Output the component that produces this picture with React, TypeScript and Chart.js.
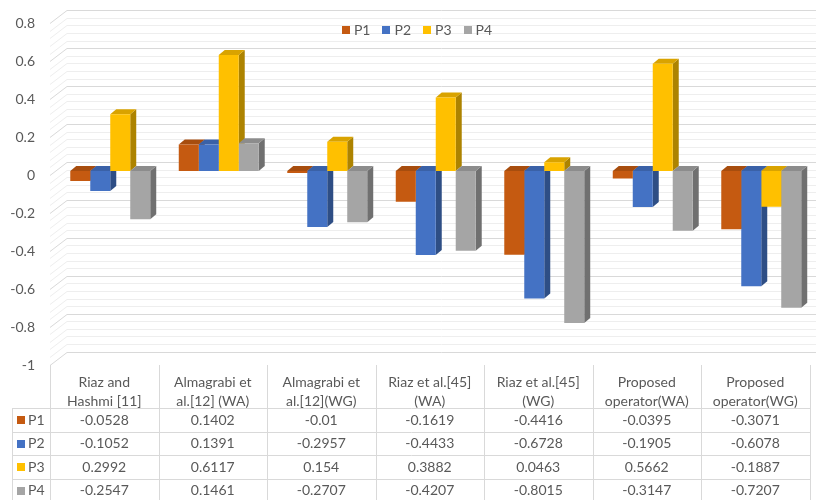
import React, { useEffect, useRef } from "react";
import { Chart, registerables } from "chart.js";

Chart.register(...registerables);

// ---- data ----
const headerLine1 = ["Riaz and", "Almagrabi et", "Almagrabi et", "Riaz et al.[45]", "Riaz et al.[45]", "Proposed", "Proposed"];
const headerLine2 = ["Hashmi [11]", "al.[12] (WA)", "al.[12](WG)", "(WA)", "(WG)", "operator(WA)", "operator(WG)"];
const seriesNames = ["P1", "P2", "P3", "P4"];
const p1 = [-0.0528, 0.1402, -0.01, -0.1619, -0.4416, -0.0395, -0.3071];
const p2 = [-0.1052, 0.1391, -0.2957, -0.4433, -0.6728, -0.1905, -0.6078];
const p3 = [0.2992, 0.6117, 0.154, 0.3882, 0.0463, 0.5662, -0.1887];
const p4 = [-0.2547, 0.1461, -0.2707, -0.4207, -0.8015, -0.3147, -0.7207];
const yTickLabels = ["0.8", "0.6", "0.4", "0.2", "0", "-0.2", "-0.4", "-0.6", "-0.8", "-1"];
const yMin = -1;
const yMax = 0.8;

// ---- style ----
const colors = ["#C55A11", "#4472C4", "#FFC000", "#A5A5A5"];
const FONT = '14px Lato, "Open Sans", sans-serif';
const TEXT = "#595959";
const DX = 6;
const DY = -5;

function shade(hex: string, f: number) {
  const n = parseInt(hex.slice(1), 16);
  const r = Math.round(((n >> 16) & 255) * f);
  const g = Math.round(((n >> 8) & 255) * f);
  const b = Math.round((n & 255) * f);
  return `rgb(${r},${g},${b})`;
}

const excel3d = {
  id: "excel3d",
  beforeDraw(chart: any) {
    const ctx = chart.ctx;
    const ys = chart.scales.y;
    ctx.save();
    ctx.fillStyle = "#fff";
    ctx.fillRect(0, 0, chart.width, chart.height);
    const backLeft = 67;
    const backRight = 816;
    const frontX = 50;
    const steps = Math.round((yMax - yMin) / 0.04);
    ctx.lineWidth = 1;
    for (let k = 0; k <= steps; k++) {
      const v = yMin + k * 0.04;
      const major = k % 5 === 0;
      const y = Math.round(ys.getPixelForValue(v) - 9) + 0.5;
      ctx.strokeStyle = major ? "#d9d9d9" : "#eeeeee";
      ctx.beginPath();
      ctx.moveTo(frontX, y + 13);
      ctx.lineTo(backLeft, y);
      ctx.lineTo(backRight, y);
      ctx.stroke();
    }
    // y labels
    ctx.font = FONT;
    ctx.fillStyle = TEXT;
    ctx.textAlign = "right";
    ctx.textBaseline = "middle";
    yTickLabels.forEach((t) => {
      const y = ys.getPixelForValue(parseFloat(t)) + 4.5;
      ctx.fillText(t, 35, y);
    });
    ctx.restore();
  },
  beforeDatasetsDraw(chart: any) {
    const ctx = chart.ctx;
    ctx.save();
    const n = chart.data.labels.length;
    for (let j = 0; j < n; j++) {
      for (let i = 0; i < chart.data.datasets.length; i++) {
        const el = chart.getDatasetMeta(i).data[j] as any;
        if (!el) continue;
        const top = Math.min(el.y, el.base);
        const bot = Math.max(el.y, el.base);
        const l = el.x - el.width / 2;
        const r = el.x + el.width / 2;
        const c = colors[i];
        ctx.fillStyle = shade(c, 0.68);
        ctx.beginPath();
        ctx.moveTo(r, top);
        ctx.lineTo(r + DX, top + DY);
        ctx.lineTo(r + DX, bot + DY);
        ctx.lineTo(r, bot);
        ctx.closePath();
        ctx.fill();
        ctx.fillStyle = shade(c, 0.85);
        ctx.beginPath();
        ctx.moveTo(l, top);
        ctx.lineTo(l + DX, top + DY);
        ctx.lineTo(r + DX, top + DY);
        ctx.lineTo(r, top);
        ctx.closePath();
        ctx.fill();
      }
    }
    ctx.restore();
  },
  afterDraw(chart: any) {
    const ctx = chart.ctx;
    const xs = chart.scales.x;
    const n = headerLine1.length;
    const colW = (xs.right - xs.left) / n;
    const tLeft = xs.left - 6;
    const tRight = tLeft + colW * n;
    const headerTop = 365;
    const rowLines = [408, 431.5, 455, 478.5, 502];
    ctx.save();
    ctx.strokeStyle = "#d9d9d9";
    ctx.lineWidth = 1;
    // vertical lines
    ctx.beginPath();
    for (let k = 0; k <= n; k++) {
      const x = Math.round(tLeft + k * colW) + 0.5;
      ctx.moveTo(x, headerTop);
      ctx.lineTo(x, 500);
    }
    ctx.moveTo(12.5, rowLines[0]);
    ctx.lineTo(12.5, 500);
    rowLines.forEach((y) => {
      const yy = Math.round(y) + 0.5;
      ctx.moveTo(12, yy);
      ctx.lineTo(Math.round(tRight) + 1, yy);
    });
    ctx.stroke();

    ctx.font = FONT;
    ctx.fillStyle = TEXT;
    ctx.textBaseline = "middle";
    ctx.textAlign = "center";
    for (let k = 0; k < n; k++) {
      const cx = tLeft + (k + 0.5) * colW;
      ctx.fillText(headerLine1[k], cx, 382);
      ctx.fillText(headerLine2[k], cx, 401);
    }
    const series = [p1, p2, p3, p4];
    series.forEach((vals, i) => {
      const cy = (rowLines[i] + rowLines[i + 1]) / 2 + 0.5;
      ctx.fillStyle = colors[i];
      ctx.fillRect(17, Math.round(cy - 4), 8, 8);
      ctx.fillStyle = TEXT;
      ctx.textAlign = "left";
      ctx.fillText(seriesNames[i], 28, cy);
      ctx.textAlign = "center";
      vals.forEach((v, k) => {
        const cx = tLeft + (k + 0.5) * colW;
        ctx.fillText(String(v), cx, cy);
      });
    });

    // legend
    const items = seriesNames.map((s) => ctx.measureText(s).width);
    const sq = 8;
    const gap = 4;
    const itemGap = 12;
    const total = items.reduce((a, w) => a + sq + gap + w, 0) + itemGap * (items.length - 1);
    let x = 417 - total / 2;
    const ly = 30;
    ctx.textAlign = "left";
    seriesNames.forEach((s, i) => {
      ctx.fillStyle = colors[i];
      ctx.fillRect(Math.round(x), ly - 4, sq, sq);
      x += sq + gap;
      ctx.fillStyle = TEXT;
      ctx.fillText(s, x, ly);
      x += items[i] + itemGap;
    });
    ctx.restore();
  },
};

export default function App() {
  const ref = useRef<HTMLCanvasElement>(null);
  useEffect(() => {
    const chart = new Chart(ref.current as HTMLCanvasElement, {
      type: "bar",
      data: {
        labels: headerLine1.map((a, i) => a + " " + headerLine2[i]),
        datasets: [p1, p2, p3, p4].map((d, i) => ({
          label: seriesNames[i],
          data: d,
          backgroundColor: colors[i],
          borderWidth: 0,
          barPercentage: 1,
          categoryPercentage: 0.737,
        })),
      },
      options: {
        responsive: false,
        devicePixelRatio: 1,
        animation: false,
        events: [],
        layout: { padding: { left: 56, right: 3.5, top: 19.3, bottom: 139.4 } },
        plugins: { legend: { display: false }, tooltip: { enabled: false } },
        scales: {
          x: { display: false, offset: true, grid: { display: false } },
          y: { display: false, min: yMin, max: yMax, grid: { display: false } },
        },
      },
      plugins: [excel3d],
    });
    return () => chart.destroy();
  }, []);
  return (
    <div style={{ position: "absolute", left: 0, top: 0, width: 819, height: 500, background: "#fff" }}>
      <canvas ref={ref} width={819} height={500} style={{ width: 819, height: 500, display: "block" }} />
    </div>
  );
}
